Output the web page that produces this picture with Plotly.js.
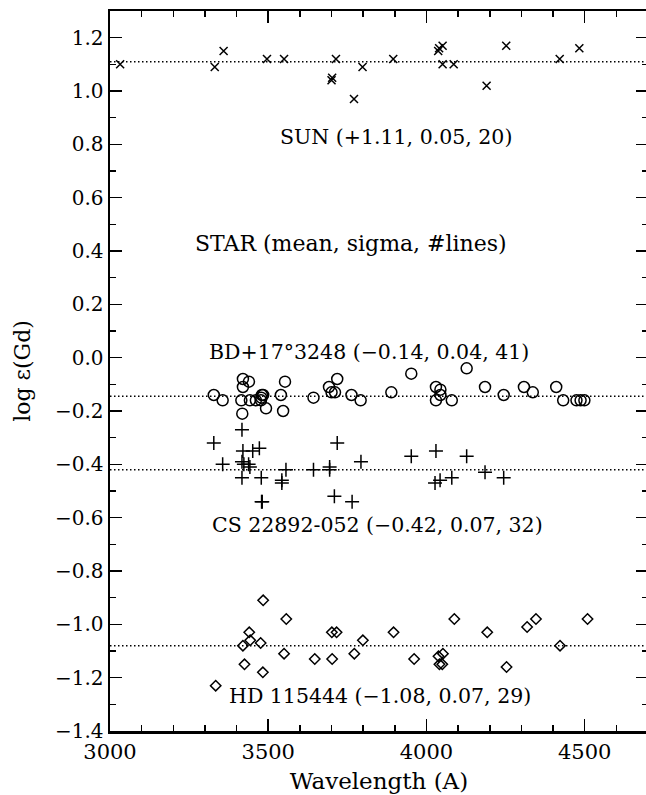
<!DOCTYPE html>
<html>
<head>
<meta charset="utf-8">
<script src="https://cdn.plot.ly/plotly-3.0.1.min.js"></script>
<style>
html, body { margin: 0; padding: 0; background: #fff; overflow: hidden; }
#chart { width: 650px; height: 795px; }
</style>
</head>
<body>
<div id="chart"></div>
<script>
// ---- data ----
const sunX = [3032, 3331, 3359, 3496, 3550, 3700, 3702, 3714, 3771, 3798, 3895, 4037, 4040, 4051, 4051, 4086, 4190, 4252, 4421, 4483];
const sunY = [1.10, 1.09, 1.15, 1.12, 1.12, 1.04, 1.05, 1.12, 0.97, 1.09, 1.12, 1.15, 1.16, 1.17, 1.10, 1.10, 1.02, 1.17, 1.12, 1.16];

const bdX = [3328, 3356, 3420, 3439, 3420, 3415, 3418, 3442, 3461, 3477,
             3480, 3484, 3478, 3493, 3553, 3540, 3547, 3643, 3692, 3718,
             3700, 3711, 3763, 3792, 3889, 3952, 4030, 4044, 4044, 4030,
             4080, 4127, 4185, 4244, 4308, 4336, 4410, 4432, 4474, 4487, 4499];
const bdY = [-0.14, -0.16, -0.08, -0.09, -0.11, -0.16, -0.21, -0.16, -0.16, -0.16,
             -0.14, -0.14, -0.15, -0.19, -0.09, -0.14, -0.20, -0.15, -0.11, -0.08,
             -0.13, -0.13, -0.14, -0.16, -0.13, -0.06, -0.11, -0.12, -0.14, -0.16,
             -0.16, -0.04, -0.11, -0.14, -0.11, -0.13, -0.11, -0.16, -0.16, -0.16, -0.16];

const csX = [3328, 3356, 3417, 3420, 3417, 3438, 3442, 3423, 3417, 3451,
             3472, 3478, 3479, 3481, 3543, 3543, 3556, 3643, 3694, 3694,
             3718, 3709, 3765, 3793, 3952, 4030, 4027, 4043, 4080, 4127,
             4185, 4244];
const csY = [-0.32, -0.40, -0.27, -0.35, -0.39, -0.40, -0.41, -0.40, -0.45, -0.35,
             -0.34, -0.45, -0.54, -0.54, -0.46, -0.47, -0.42, -0.42, -0.41, -0.42,
             -0.32, -0.52, -0.54, -0.39, -0.37, -0.35, -0.47, -0.46, -0.45, -0.37,
             -0.43, -0.45];

const hdX = [3334, 3420, 3425, 3440, 3443, 3476, 3484, 3483, 3550, 3557,
             3647, 3701, 3716, 3702, 3772, 3799, 3896, 3961, 4038, 4041,
             4052, 4050, 4088, 4192, 4253, 4318, 4346, 4422, 4509];
const hdY = [-1.23, -1.08, -1.15, -1.03, -1.06, -1.07, -0.91, -1.18, -1.11, -0.98,
             -1.13, -1.03, -1.03, -1.13, -1.11, -1.06, -1.03, -1.13, -1.12, -1.15,
             -1.11, -1.15, -0.98, -1.03, -1.16, -1.01, -0.98, -1.08, -0.98];

const means = [1.11, -0.145, -0.42, -1.08];
const labels = ["SUN (+1.11, 0.05, 20)", "BD+17°3248 (−0.14, 0.04, 41)",
                "CS 22892-052 (−0.42, 0.07, 32)", "HD 115444 (−1.08, 0.07, 29)"];
const headerLabel = "STAR (mean, sigma, #lines)";
const xTickVals = [3000, 3500, 4000, 4500];
const xTitle = "Wavelength (A)";
const yTitle = "log ε(Gd)";

// ---- chart ----
const FONT = "DejaVu Serif";
const ink = "#000";

function pts(x, y, symbol, size) {
  return {
    x: x, y: y, type: "scatter", mode: "markers", hoverinfo: "skip",
    marker: { symbol: symbol, size: size, color: ink, line: { color: ink, width: 1.5 } }
  };
}

const traces = [
  pts(sunX, sunY, "x-thin-open", 8),
  pts(bdX, bdY, "circle-open", 11),
  pts(csX, csY, "cross-thin-open", 10),
  pts(hdX, hdY, "diamond-open", 8)
];

const shapes = means.map(m => ({
  type: "line", xref: "paper", x0: 0, x1: 1, yref: "y", y0: m, y1: m,
  line: { color: ink, width: 1.5, dash: "1.5px,2.5px" }
}));

const annPos = [[3903, 0.826], [3818, 0.023], [3845, -0.628], [3853, -1.268]];
const annotations = labels.map((t, i) => ({
  text: t, x: annPos[i][0], y: annPos[i][1], xref: "x", yref: "y",
  showarrow: false, xanchor: "center", yanchor: "middle",
  font: { family: FONT, size: 20.5, color: ink }
}));
annotations.push({
  text: headerLabel, x: 3760, y: 0.43, xref: "x", yref: "y",
  showarrow: false, xanchor: "center", yanchor: "middle",
  font: { family: FONT, size: 22, color: ink }
});

const axisCommon = {
  showline: true, linecolor: ink, linewidth: 2.5, mirror: "ticks",
  ticks: "inside", tickcolor: ink, tickwidth: 1.5, ticklen: 12,
  showgrid: false, zeroline: false
};

const layout = {
  width: 650, height: 795,
  margin: { l: 110, r: 2, t: 11, b: 64 },
  paper_bgcolor: "#fff", plot_bgcolor: "#fff",
  showlegend: false,
  font: { family: FONT, color: ink },
  xaxis: Object.assign({}, axisCommon, {
    range: [3000, 4700], tickvals: xTickVals,
    tickfont: { family: FONT, size: 21, color: ink },
    minor: { dtick: 100, ticks: "inside", ticklen: 6, tickwidth: 1.5, tickcolor: ink, showgrid: false },
    title: { text: xTitle, font: { family: FONT, size: 23, color: ink }, standoff: 10 }
  }),
  yaxis: Object.assign({}, axisCommon, {
    range: [-1.4, 1.3], dtick: 0.2, tick0: 0, tickformat: ".1f",
    tickfont: { family: FONT, size: 20, color: ink },
    minor: { dtick: 0.1, ticks: "inside", ticklen: 6, tickwidth: 1.5, tickcolor: ink, showgrid: false },
    title: { text: yTitle, font: { family: FONT, size: 22, color: ink }, standoff: 18 }
  }),
  shapes: shapes,
  annotations: annotations
};

Plotly.newPlot("chart", traces, layout, { staticPlot: true, displayModeBar: false });
</script>
</body>
</html>
